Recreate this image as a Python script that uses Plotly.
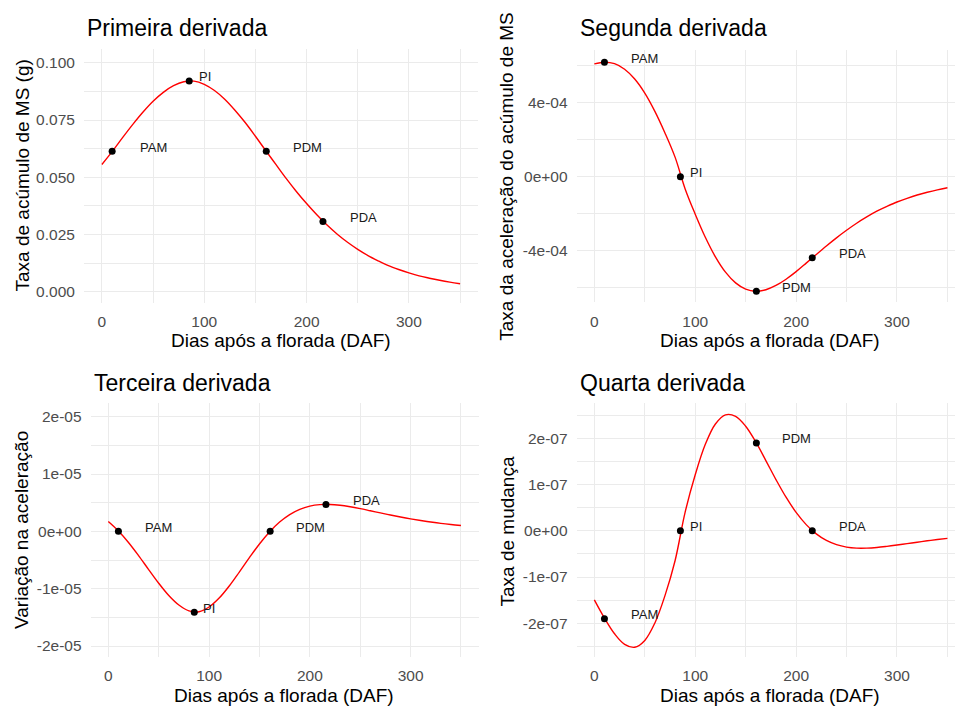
import plotly.graph_objects as go

# Days after flowering (DAF) sampled along the fitted curve
days = [0, 10, 20, 30, 40, 50, 60, 70, 80, 90, 100, 110, 120, 130, 140, 150, 160, 170,
        180, 190, 200, 210, 220, 230, 240, 250, 260, 270, 280, 290, 300, 310, 320, 330,
        340, 350]

# First derivative: dry matter accumulation rate (g)
first_deriv = [0.0556, 0.0612, 0.0672, 0.0730, 0.0784, 0.0832, 0.0871, 0.0900, 0.0917,
               0.0920, 0.0906, 0.0879, 0.0841, 0.0793, 0.0739, 0.0679, 0.0617, 0.0556,
               0.0495, 0.0438, 0.0385, 0.0336, 0.0291, 0.0251, 0.0216, 0.0185, 0.0158,
               0.0135, 0.0114, 0.0097, 0.0082, 0.0069, 0.0059, 0.0050, 0.0042, 0.0035]

# Second derivative
second_deriv = [6.11e-4, 6.20e-4, 6.12e-4, 5.82e-4, 5.29e-4, 4.53e-4, 3.54e-4, 2.37e-4,
                1.06e-4, -0.66e-4, -2.03e-4, -3.28e-4, -4.34e-4, -5.17e-4, -5.75e-4,
                -6.09e-4, -6.20e-4, -6.12e-4, -5.89e-4, -5.55e-4, -5.14e-4, -4.68e-4,
                -4.21e-4, -3.75e-4, -3.31e-4, -2.90e-4, -2.52e-4, -2.18e-4, -1.87e-4,
                -1.61e-4, -1.37e-4, -1.17e-4, -0.99e-4, -0.84e-4, -0.71e-4, -0.60e-4]

# Third derivative
third_deriv = [1.71e-6, 0.06e-6, -1.94e-6, -4.23e-6, -6.66e-6, -9.05e-6, -11.19e-6,
               -12.85e-6, -13.86e-6, -14.01e-6, -13.19e-6, -11.64e-6, -9.53e-6, -7.10e-6,
               -4.59e-6, -2.20e-6, -0.11e-6, 1.62e-6, 2.93e-6, 3.84e-6, 4.40e-6, 4.66e-6,
               4.69e-6, 4.55e-6, 4.29e-6, 3.96e-6, 3.59e-6, 3.22e-6, 2.85e-6, 2.50e-6,
               2.18e-6, 1.89e-6, 1.63e-6, 1.39e-6, 1.19e-6, 1.02e-6]

# Fourth derivative
fourth_deriv = [-14.94e-8, -18.87e-8, -22.26e-8, -24.55e-8, -25.18e-8, -23.70e-8,
                -19.93e-8, -14.01e-8, -6.47e-8, 4.04e-8, 12.12e-8, 18.70e-8, 23.10e-8,
                25.08e-8, 24.76e-8, 22.61e-8, 19.21e-8, 15.19e-8, 11.08e-8, 7.26e-8,
                3.98e-8, 1.34e-8, -0.67e-8, -2.09e-8, -3.00e-8, -3.52e-8, -3.74e-8,
                -3.74e-8, -3.60e-8, -3.36e-8, -3.08e-8, -2.77e-8, -2.46e-8, -2.16e-8,
                -1.89e-8, -1.64e-8]

# Key points of the curve
stage_names = ["PAM", "PI", "PDM", "PDA"]
stage_days = [10.0, 85.3, 160.6, 216.0]
stage_first = [0.0614, 0.0921, 0.0614, 0.0307]
stage_second = [6.20e-4, 0.0, -6.20e-4, -4.39e-4]
stage_third = [0.0, -1.41e-5, 0.0, 4.70e-6]
stage_fourth = [-1.90e-7, 0.0, 1.90e-7, 0.0]
label_nudge_days = [40, 15, 40, 40]

# Tick labels
x_ticks = [0, 100, 200, 300]
y1_ticks = [0.0, 0.025, 0.05, 0.075, 0.1]
y1_text = ["0.000", "0.025", "0.050", "0.075", "0.100"]
y2_ticks = [-4e-4, 0.0, 4e-4]
y2_text = ["-4e-04", "0e+00", "4e-04"]
y3_ticks = [-2e-5, -1e-5, 0.0, 1e-5, 2e-5]
y3_text = ["-2e-05", "-1e-05", "0e+00", "1e-05", "2e-05"]
y4_ticks = [-2e-7, -1e-7, 0.0, 1e-7, 2e-7]
y4_text = ["-2e-07", "-1e-07", "0e+00", "1e-07", "2e-07"]

titles = ["Primeira derivada", "Segunda derivada", "Terceira derivada", "Quarta derivada"]
y_titles = ["Taxa de acúmulo de MS (g)", "Taxa da aceleração do acúmulo de MS",
            "Variação na aceleração", "Taxa de mudança"]
x_title = "Dias após a florada (DAF)"

W, H = 955, 711
FONT = "Liberation Sans, Arial, sans-serif"
GRID = "#EBEBEB"


def px(x):
    return x / W


def py(y):
    return 1 - y / H


panels = [
    dict(curve=first_deriv, pts=stage_first, xdom=(84.0, 478.0), ydom=(49.3, 302.7),
         xr=[-17.5, 367.5], yr=[-0.0048, 0.1059], yt=y1_ticks, ytt=y1_text,
         ydt=0.025, title_xy=(84.8, 28.3), xt_xy=(281, 340.8), yt_xy=(21.5, 176)),
    dict(curve=second_deriv, pts=stage_second, xdom=(576.7, 955.0), ydom=(50.0, 302.3),
         xr=[-17.5, 357.5], yr=[-6.80e-4, 6.86e-4], yt=y2_ticks, ytt=y2_text,
         ydt=4e-4, title_xy=(577.7, 28.3), xt_xy=(770, 340.8), yt_xy=(507, 176.7)),
    dict(curve=third_deriv, pts=stage_third, xdom=(90.7, 478.6), ydom=(403.3, 656.7),
         xr=[-17.5, 367.5], yr=[-2.186e-5, 2.233e-5], yt=y3_ticks, ytt=y3_text,
         ydt=1e-5, title_xy=(91.5, 383), xt_xy=(284, 695), yt_xy=(21.5, 530.5)),
    dict(curve=fourth_deriv, pts=stage_fourth, xdom=(576.7, 955.0), ydom=(403.3, 656.7),
         xr=[-17.5, 357.5], yr=[-2.722e-7, 2.757e-7], yt=y4_ticks, ytt=y4_text,
         ydt=1e-7, title_xy=(577.7, 383), xt_xy=(770, 695), yt_xy=(507, 531.5)),
]

fig = go.Figure()
annotations = []
layout = {}

for i, p in enumerate(panels):
    n = "" if i == 0 else str(i + 1)
    xa, ya = "x" + n, "y" + n

    fig.add_trace(go.Scatter(
        x=days, y=p["curve"], mode="lines", xaxis=xa, yaxis=ya,
        line=dict(color="#FF0000", width=1.4, shape="spline", smoothing=1.0),
        hoverinfo="skip", showlegend=False))
    fig.add_trace(go.Scatter(
        x=stage_days, y=p["pts"], mode="markers", xaxis=xa, yaxis=ya,
        marker=dict(color="black", size=7), text=stage_names, showlegend=False))

    for name, d, v, nudge in zip(stage_names, stage_days, p["pts"], label_nudge_days):
        annotations.append(dict(
            x=d + nudge, y=v, xref=xa, yref=ya, text=name, showarrow=False,
            xanchor="center", yanchor="middle", yshift=4,
            font=dict(family=FONT, size=13, color="#1A1A1A")))

    common = dict(showline=False, zeroline=False, showgrid=True, gridcolor=GRID,
                  gridwidth=1.1, ticks="outside", tickcolor="rgba(0,0,0,0)", ticklen=5,
                  tickfont=dict(family=FONT, size=15.5, color="#4D4D4D"))
    layout["xaxis" + n] = dict(
        domain=[px(p["xdom"][0]), px(p["xdom"][1])], range=p["xr"], anchor=ya,
        tickmode="array", tickvals=x_ticks,
        minor=dict(dtick=50, tick0=0, showgrid=True, gridcolor=GRID, gridwidth=0.7),
        **common)
    layout["yaxis" + n] = dict(
        domain=[py(p["ydom"][1]), py(p["ydom"][0])], range=p["yr"], anchor=xa,
        tickmode="array", tickvals=p["yt"], ticktext=p["ytt"],
        minor=dict(dtick=p["ydt"] / 2, tick0=0, showgrid=True, gridcolor=GRID,
                   gridwidth=0.7),
        **common)

    annotations.append(dict(
        x=px(p["title_xy"][0]), y=py(p["title_xy"][1]), xref="paper", yref="paper",
        text=titles[i], showarrow=False, xanchor="left", yanchor="middle",
        font=dict(family=FONT, size=23, color="black")))
    annotations.append(dict(
        x=px(p["xt_xy"][0]), y=py(p["xt_xy"][1]), xref="paper", yref="paper",
        text=x_title, showarrow=False, xanchor="center", yanchor="middle",
        font=dict(family=FONT, size=19, color="black")))
    annotations.append(dict(
        x=px(p["yt_xy"][0]), y=py(p["yt_xy"][1]), xref="paper", yref="paper",
        text=y_titles[i], showarrow=False, xanchor="center", yanchor="middle",
        textangle=-90, font=dict(family=FONT, size=19, color="black")))

fig.update_layout(
    width=W, height=H, margin=dict(l=0, r=0, t=0, b=0),
    paper_bgcolor="white", plot_bgcolor="white",
    annotations=annotations, **layout)

fig.write_html("out.html")
